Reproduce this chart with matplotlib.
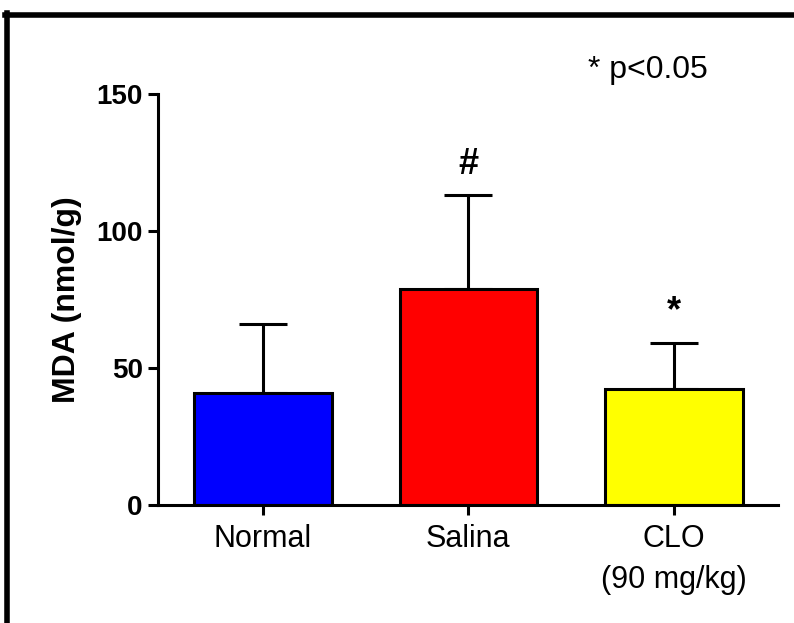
import matplotlib
matplotlib.use("Agg")
import matplotlib.pyplot as plt
from matplotlib.lines import Line2D

categories = ["Normal", "Salina", "CLO\n(90 mg/kg)"]
means = [41, 79, 42.5]
errors = [25, 34, 16.5]
colors = ["#0000FF", "#FF0000", "#FFFF00"]
marks = ["", "#", "*"]
yticks = [0, 50, 100, 150]

plt.rcParams['font.family'] = ['Liberation Sans', 'DejaVu Sans']

fig = plt.figure(figsize=(7.94, 6.23), dpi=100)
ax = fig.add_axes([158/794, 1-505/623, 620/794, 411/623])

x = list(range(len(categories)))
ax.bar(x, means, width=0.67, color=colors, edgecolor="black", linewidth=2.2, zorder=2)
ax.errorbar(x, means, yerr=[[0]*3, errors], fmt="none", ecolor="black",
            elinewidth=2.2, capsize=17, capthick=2.2, zorder=1)
for xi, m, e, s in zip(x, means, errors, marks):
    if s:
        ax.text(xi, m + e + 5, s, ha="center", va="bottom", fontsize=26, fontweight="bold")

ax.set_xlim(-0.51, 2.506)
ax.set_ylim(0, 150)
ax.set_yticks(yticks)
ax.set_yticklabels([str(t) for t in yticks], fontsize=20, fontweight="bold")
ax.set_xticks(x)
ax.set_xticklabels(categories, fontsize=22, linespacing=1.45)
ax.spines["top"].set_visible(False)
ax.spines["right"].set_visible(False)
ax.spines["left"].set_linewidth(2.2)
ax.spines["bottom"].set_linewidth(2.2)
ax.tick_params(axis="both", width=2.2, length=7, direction="out")
ax.tick_params(axis="y", pad=4)
ax.tick_params(axis="x", pad=7)
ax.set_ylabel("MDA (nmol/g)", fontsize=23, fontweight="bold", labelpad=10)

fig.text(588/794, 1-70/623, "* p<0.05", fontsize=23, ha="left", va="center")

# outer frame (top and left)
fig.add_artist(Line2D([5/794, 1], [1-15/623, 1-15/623], color="black", linewidth=4, transform=fig.transFigure))
fig.add_artist(Line2D([7/794, 7/794], [0, 1-13/623], color="black", linewidth=4, transform=fig.transFigure))

fig.savefig("out.png", dpi=100)
